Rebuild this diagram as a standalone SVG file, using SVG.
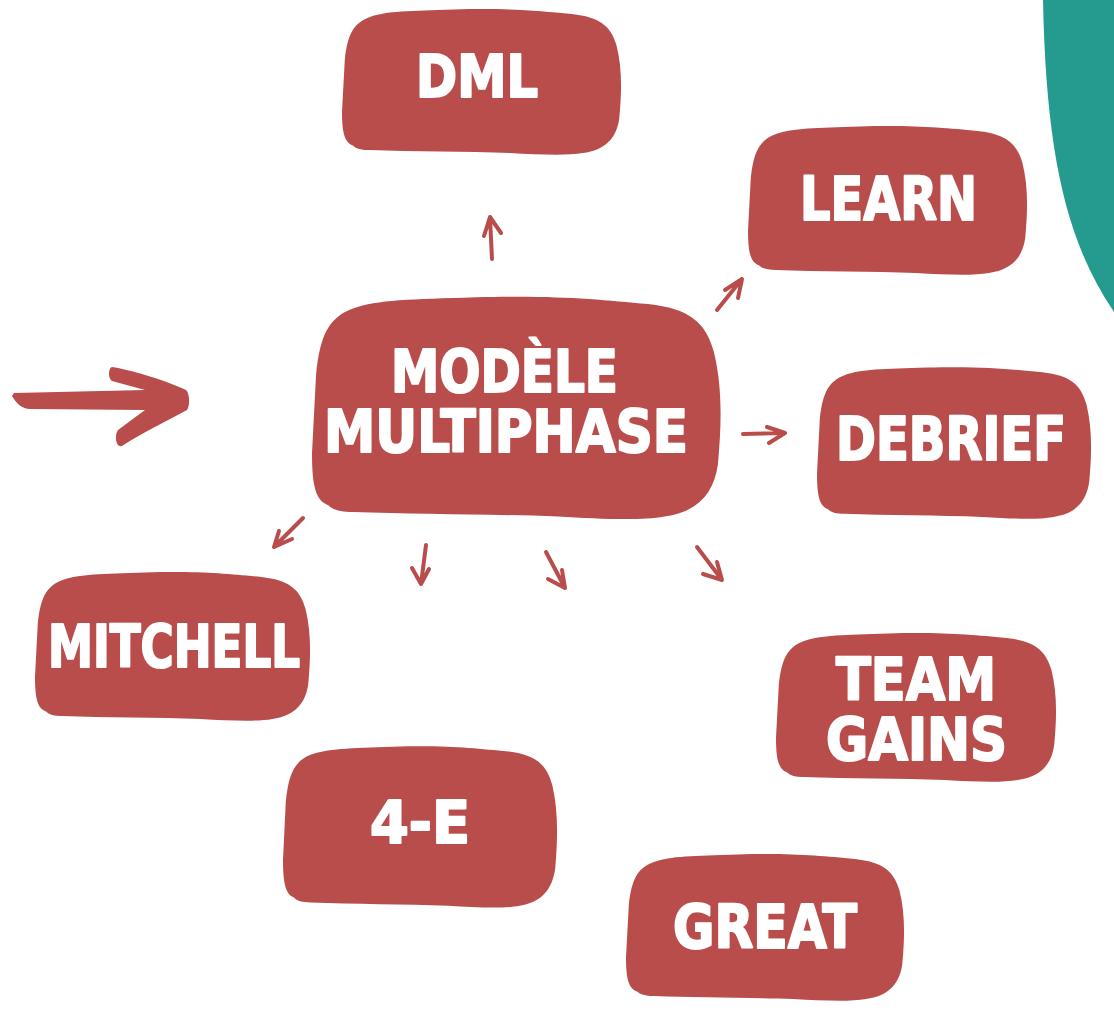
<svg xmlns="http://www.w3.org/2000/svg" xmlns:xlink="http://www.w3.org/1999/xlink" width="1114" height="1016" viewBox="0 0 1114 1016">
<style>
.blob{fill:#B94D4C}
.lbl{fill:#ffffff;stroke:#ffffff;stroke-width:2;stroke-linejoin:round;font-family:"DejaVu Sans","Liberation Sans",sans-serif;font-weight:bold;font-stretch:condensed;text-anchor:middle}
.arr{fill:none;stroke:#B94D4C;stroke-width:4;stroke-linecap:round;stroke-linejoin:round}
</style>
<defs>
<path id="blob" d="M4,93 C1,91 0,85 0,70 L1,35 C2,18 4,10 10,6 C16,2 24,2 40,1 C60,0 70,2 82,4 C92,6 96,12 98,25 C100,40 100,55 99,75 C98,88 94,96 86,98 C80,100 70,99 60,98 C45,97 25,97 10,96 C7,96 5,95 4,93 Z"/>
</defs>
<rect width="1114" height="1016" fill="#ffffff"/>
<path d="M1043,0 C1046,150 1065,240 1114,312 L1114,0 Z" fill="#259B8F"/>
<g id="connectors">
<path d="M14,393 L145,390 L112,381 C108,379 108,368 112,367 C130,370 160,378 186,390 C190,394 190,406 187,410 C165,422 140,434 122,446 C116,448 114,436 118,430 L145,410 L30,409 C22,409 16,403 12,396 Z" fill="#B94D4C"/>
<path class="arr" d="M492,259 L490,218 M484,236 L490,217 L501,233"/>
<path class="arr" d="M717,310 L742,279 M725,290 L742,279 L738,298"/>
<path class="arr" d="M743,434 L785,433 M767,427 L785,433 L769,443"/>
<path class="arr" d="M303,518 L274,547 M279,531 L274,547 L292,539"/>
<path class="arr" d="M426,545 L421,584 M412,568 L421,584 L429,569"/>
<path class="arr" d="M546,552 L565,588 M548,579 L565,588 L562,570"/>
<path class="arr" d="M697,547 L722,580 M703,574 L722,580 L717,562"/>
</g>
<g id="node-dml"><use xlink:href="#blob" class="blob" transform="translate(342,8) scale(2.8,1.48)"/><text class="lbl" x="477" y="97" font-size="58" textLength="122" lengthAdjust="spacingAndGlyphs">DML</text></g>
<g id="node-learn"><use xlink:href="#blob" class="blob" transform="translate(748,125) scale(2.8,1.51)"/><text class="lbl" x="888.5" y="220" font-size="60" textLength="177" lengthAdjust="spacingAndGlyphs">LEARN</text></g>
<g id="node-center"><use xlink:href="#blob" class="blob" transform="translate(312,295) scale(4.1,2.26)"/><text class="lbl" x="504.5" y="392" font-size="59" textLength="227" lengthAdjust="spacingAndGlyphs">MODÈLE</text><text class="lbl" x="506" y="452" font-size="59" textLength="364" lengthAdjust="spacingAndGlyphs">MULTIPHASE</text></g>
<g id="node-debrief"><use xlink:href="#blob" class="blob" transform="translate(817,366) scale(2.75,1.54)"/><text class="lbl" x="951" y="460" font-size="60" textLength="230" lengthAdjust="spacingAndGlyphs">DEBRIEF</text></g>
<g id="node-mitchell"><use xlink:href="#blob" class="blob" transform="translate(35,571) scale(2.76,1.51)"/><text class="lbl" x="174" y="667" font-size="58" textLength="252" lengthAdjust="spacingAndGlyphs">MITCHELL</text></g>
<g id="node-teamgains"><use xlink:href="#blob" class="blob" transform="translate(776,632) scale(2.81,1.51)"/><text class="lbl" x="916" y="700" font-size="59" textLength="160" lengthAdjust="spacingAndGlyphs">TEAM</text><text class="lbl" x="916.5" y="760" font-size="59" textLength="181" lengthAdjust="spacingAndGlyphs">GAINS</text></g>
<g id="node-4e"><use xlink:href="#blob" class="blob" transform="translate(283,745) scale(2.75,1.64)"/><text class="lbl" x="420" y="843" font-size="59" textLength="100" lengthAdjust="spacingAndGlyphs">4-E</text></g>
<g id="node-great"><use xlink:href="#blob" class="blob" transform="translate(626,853) scale(2.79,1.49)"/><text class="lbl" x="765" y="948" font-size="60" textLength="184" lengthAdjust="spacingAndGlyphs">GREAT</text></g>
</svg>
